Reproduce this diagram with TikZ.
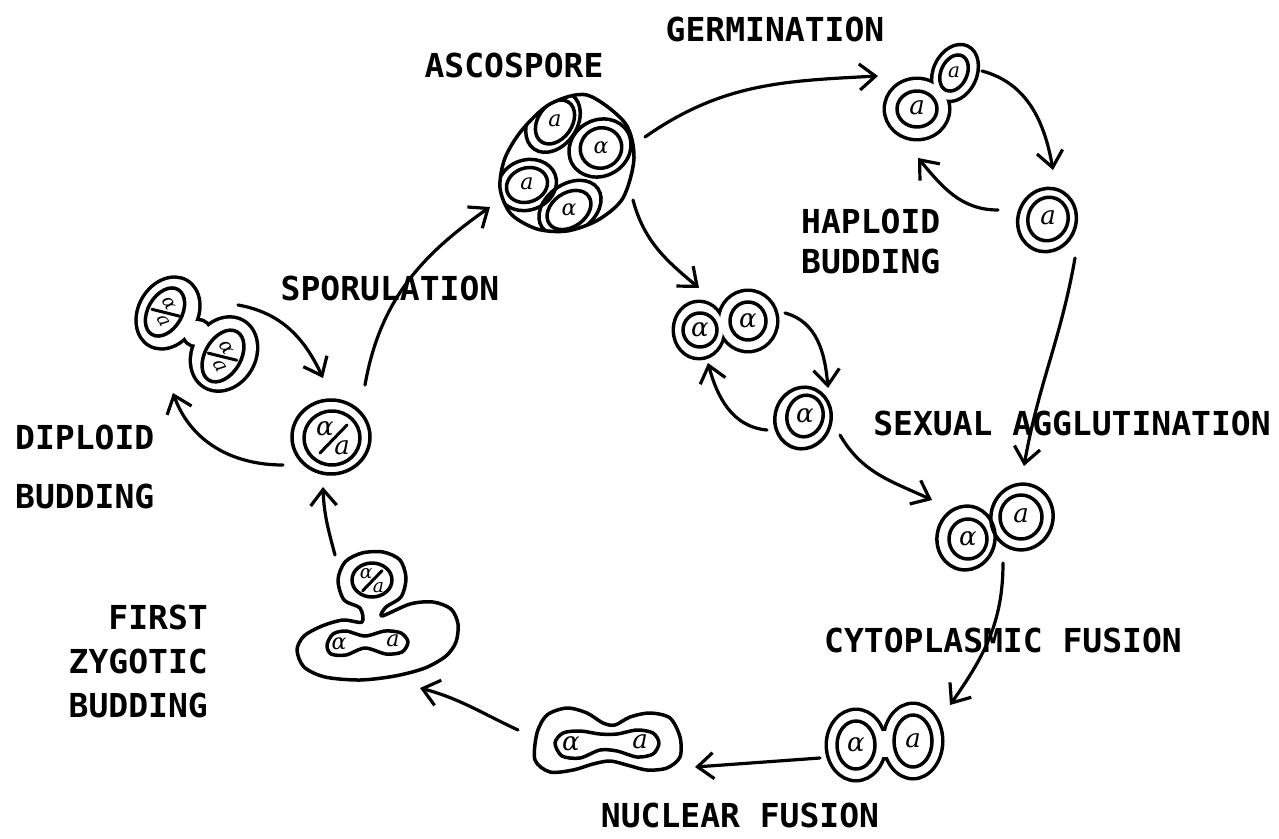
\documentclass[tikz,border=0pt]{standalone}
\usepackage{fontspec}
\newfontfamily\stagefont{DejaVu Sans Mono}
\newfontfamily\chromofont{DejaVu Serif}
\usetikzlibrary{arrows.meta}

\tikzset{
  wall/.style={line width=3.5pt},
  rim/.style={line width=7pt},
  stage/.style={font=\stagefont\bfseries\fontsize{33}{40}\selectfont, inner sep=0pt},
  chromo/.style={font=\chromofont\itshape\fontsize{26}{26}\selectfont, inner sep=0pt},
  arrow/.style={line width=3.2pt, -{Straight Barb[length=16pt,width=26pt]}},
  dipsym/.pic={
    \node[chromo, transform shape] at (-8,-9) {α};
    \node[chromo, transform shape] at (9,10) {a};
    \draw[line width=3pt] (-13,15) -- (14,-13);
  }
}

\begin{document}
\begin{tikzpicture}[x=1pt, y=-1pt, line cap=round, line join=round]
\fill[white] (0,0) rectangle (1279,838);
\useasboundingbox (0,0) rectangle (1279,838);

% stage names
\node[stage] (germ) at (775,29) {GERMINATION};
\node[stage] (asco) at (514,65) {ASCOSPORE};
\node[stage, anchor=west, align=left] (hapl) at (801,241) {HAPLOID\\BUDDING};
\node[stage] (spor) at (390,288) {SPORULATION};
\node[stage, anchor=west, align=left] (dipl) at (15,467) {DIPLOID\\[19pt]BUDDING};
\node[stage] (aggl) at (1072,423) {SEXUAL AGGLUTINATION};
\node[stage] (cyto) at (1003,640) {CYTOPLASMIC FUSION};
\node[stage] (nucl) at (740,815) {NUCLEAR FUSION};
\node[stage, anchor=east, align=right] (zygb) at (208,661) {FIRST\\[4pt]ZYGOTIC\\[4pt]BUDDING};

% ascus with four spores
\begin{scope}
  \clip plot[smooth cycle] coordinates {(587,95) (625,123) (634,158) (623,198) (598,220) (567,231) (537,229) (511,214) (500,188) (505,158) (522,130) (550,104)};
  \draw[wall, rotate around={55:(553,122)}] (553,122) ellipse [x radius=33, y radius=24];
  \draw[wall, rotate around={55:(555,122)}] (555,122) ellipse [x radius=24, y radius=17];
  \draw[wall, rotate around={30:(600,148)}] (600,148) ellipse [x radius=32, y radius=28];
  \draw[wall, rotate around={30:(601,148)}] (601,148) ellipse [x radius=21, y radius=20];
  \draw[wall, rotate around={20:(527,185)}] (527,185) ellipse [x radius=30, y radius=25];
  \draw[wall, rotate around={20:(527,185)}] (527,185) ellipse [x radius=21, y radius=17];
  \draw[wall, rotate around={35:(570,208)}] (570,208) ellipse [x radius=34, y radius=24];
  \draw[wall, rotate around={35:(569,210)}] (569,210) ellipse [x radius=24, y radius=17];
\end{scope}
\draw[wall] plot[smooth cycle] coordinates {(587,95) (625,123) (634,158) (623,198) (598,220) (567,231) (537,229) (511,214) (500,188) (505,158) (522,130) (550,104)};
\node[chromo, font=\chromofont\itshape\fontsize{22}{22}\selectfont] (s1) at (555,121) {a};
\node[chromo, font=\chromofont\itshape\fontsize{22}{22}\selectfont] (s2) at (601,148) {α};
\node[chromo, font=\chromofont\itshape\fontsize{22}{22}\selectfont] (s3) at (527,184) {a};
\node[chromo, font=\chromofont\itshape\fontsize{22}{22}\selectfont] (s4) at (569,210) {α};

% germinating a spore
\draw[rim] (917,109) ellipse [x radius=31, y radius=29];
\draw[rim, rotate around={-25:(955,73)}] (955,73) ellipse [x radius=20, y radius=28];
\fill[white] (917,109) ellipse [x radius=31, y radius=29];
\fill[white, rotate around={-25:(955,73)}] (955,73) ellipse [x radius=20, y radius=28];
\draw[wall] (917,109) ellipse [x radius=20, y radius=18];
\draw[wall, rotate around={-25:(954,73)}] (954,73) ellipse [x radius=13, y radius=19];
\node[chromo] (g1) at (917,108) {a};
\node[chromo, font=\chromofont\itshape\fontsize{20}{20}\selectfont] (g2) at (954,72) {a};

% single a cell
\draw[wall, rotate around={-20:(1047,220)}] (1047,220) ellipse [x radius=29, y radius=32];
\draw[wall, rotate around={-20:(1048,219)}] (1048,219) ellipse [x radius=20, y radius=22];
\node[chromo] (h1) at (1048,218) {a};

% alpha pair
\draw[rim] (699,330) ellipse [x radius=24, y radius=27];
\draw[rim] (748,321) ellipse [x radius=28, y radius=29];
\fill[white] (699,330) ellipse [x radius=24, y radius=27];
\fill[white] (748,321) ellipse [x radius=28, y radius=29];
\draw[wall] (700,330) ellipse [x radius=17, y radius=17];
\draw[wall] (748,321) ellipse [x radius=18, y radius=19];
\node[chromo] (p1) at (700,330) {α};
\node[chromo] (p2) at (748,321) {α};

% single alpha cell
\draw[wall, rotate around={-15:(803,418)}] (803,418) ellipse [x radius=28, y radius=31];
\draw[wall, rotate around={-15:(805,416)}] (805,416) ellipse [x radius=18, y radius=21];
\node[chromo] (q1) at (805,416) {α};

% mating pair
\draw[wall, rotate around={-10:(966,538)}] (966,538) ellipse [x radius=29, y radius=32];
\draw[wall] (968,539) ellipse [x radius=19, y radius=20];
\draw[wall, rotate around={-15:(1022,517)}] (1022,517) ellipse [x radius=31, y radius=33];
\draw[wall] (1021,517) ellipse [x radius=21, y radius=22];
\node[chromo] (m1) at (968,539) {α};
\node[chromo] (m2) at (1021,516) {a};

% joined pair
\draw[rim] (856,745) ellipse [x radius=28, y radius=34];
\draw[rim] (913,741) ellipse [x radius=28, y radius=36];
\draw[rim] (885,744) ellipse [x radius=16, y radius=13];
\fill[white] (856,745) ellipse [x radius=28, y radius=34];
\fill[white] (913,741) ellipse [x radius=28, y radius=36];
\fill[white] (885,744) ellipse [x radius=16, y radius=13];
\draw[wall] (856,745) ellipse [x radius=19, y radius=24];
\draw[wall] (913,741) ellipse [x radius=19, y radius=26];
\node[chromo] (c1) at (856,745) {α};
\node[chromo] (c2) at (913,741) {a};

% zygote with fusing nuclei
\draw[wall] plot[smooth cycle] coordinates {(537,733) (547,715) (567,708) (587,713) (603,723) (615,725) (630,717) (650,713) (670,718) (680,737) (680,757) (667,768) (647,770) (627,765) (610,761) (593,764) (573,770) (550,772) (535,760)};
\draw[wall] plot[smooth cycle] coordinates {(555,743) (563,733) (580,731) (600,734) (617,734) (637,730) (653,733) (659,743) (653,754) (637,757) (617,751) (600,750) (580,758) (562,756)};
\node[chromo] (n1) at (571,744) {α};
\node[chromo] (n2) at (640,742) {a};

% zygote with first bud
\draw[wall] plot[smooth cycle] coordinates {(362,622) (360,608) (344,600) (338,580) (345,562) (362,553) (383,552) (400,560) (406,578) (401,597) (386,607) (382,616) (410,604) (433,602) (451,609) (458,624) (456,642) (446,656) (425,668) (395,676) (360,680) (325,677) (304,667) (297,650) (304,636) (322,626) (343,620)};
\draw[wall] (372,580) ellipse [x radius=20, y radius=17];
\pic[scale=0.72] at (372,580) {dipsym};
\draw[wall] plot[smooth cycle] coordinates {(327,645) (333,634) (346,631) (365,636) (385,631) (401,633) (408,642) (402,652) (386,654) (365,648) (346,655) (331,654)};
\node[chromo, font=\chromofont\itshape\fontsize{22}{22}\selectfont] (z1) at (339,644) {α};
\node[chromo, font=\chromofont\itshape\fontsize{22}{22}\selectfont] (z2) at (393,641) {a};

% diploid cell
\draw[wall] (331,437) ellipse [x radius=39, y radius=37];
\draw[wall] (332,438) ellipse [x radius=28, y radius=27];
\pic at (333,438) {dipsym};

% budding diploid
\draw[rim, rotate around={60:(168,313)}] (168,313) ellipse [x radius=36, y radius=28];
\draw[rim, rotate around={60:(224,354)}] (224,354) ellipse [x radius=37, y radius=30];
\draw[rim] (197,333) ellipse [x radius=13, y radius=12];
\fill[white, rotate around={60:(168,313)}] (168,313) ellipse [x radius=36, y radius=28];
\fill[white, rotate around={60:(224,354)}] (224,354) ellipse [x radius=37, y radius=30];
\fill[white] (197,333) ellipse [x radius=13, y radius=12];
\draw[wall, rotate around={60:(165,312)}] (165,312) ellipse [x radius=26, y radius=17];
\draw[wall, rotate around={60:(223,356)}] (223,356) ellipse [x radius=28, y radius=18];
\pic[rotate=-60, scale=0.72] at (166,312) {dipsym};
\pic[rotate=-60, scale=0.76] at (223,356) {dipsym};

% arrow ends
\coordinate (spoS) at (365,385);  \coordinate (spoE) at (490,207);
\coordinate (gerS) at (645,137);  \coordinate (gerE) at (878,76);
\coordinate (hbaS) at (982,71);   \coordinate (hbaE) at (1053,170);
\coordinate (hbbS) at (998,210);  \coordinate (hbbE) at (918,158);
\coordinate (hagS) at (1075,258); \coordinate (hagE) at (1024,466);
\coordinate (ascS) at (633,200);  \coordinate (ascE) at (699,288);
\coordinate (abaS) at (785,313);  \coordinate (abaE) at (828,388);
\coordinate (abbS) at (767,430);  \coordinate (abbE) at (708,363);
\coordinate (aagS) at (840,435);  \coordinate (aagE) at (932,500);
\coordinate (cytS) at (1003,563); \coordinate (cytE) at (950,705);
\coordinate (nucS) at (820,758);  \coordinate (nucE) at (695,767);
\coordinate (zygS) at (518,730);  \coordinate (zygE) at (420,688);
\coordinate (dipS) at (335,555);  \coordinate (dipE) at (323,487);
\coordinate (dbaS) at (283,465);  \coordinate (dbaE) at (173,393);
\coordinate (dbbS) at (238,305);  \coordinate (dbbE) at (323,378);

\draw[arrow] (spoS) to[out=80, in=215] (spoE);
\draw[arrow] (gerS) to[out=35, in=183] (gerE);
\draw[arrow] (hbaS) to[out=-15, in=100] (hbaE);
\draw[arrow] (hbbS) to[out=180, in=-50] (hbbE);
\draw[arrow] (hagS) to[out=-100, in=80] (hagE);
\draw[arrow] (ascS) to[out=-75, in=140] (ascE);
\draw[arrow] (abaS) to[out=-15, in=95] (abaE);
\draw[arrow] (abbS) to[out=175, in=-75] (abbE);
\draw[arrow] (aagS) to[out=-60, in=155] (aagE);
\draw[arrow] (cytS) to[out=-90, in=55] (cytE);
\draw[arrow] (nucS) -- (nucE);
\draw[arrow] (zygS) to[out=155, in=-15] (zygE);
\draw[arrow] (dipS) to[out=105, in=-88] (dipE);
\draw[arrow] (dbaS) to[out=180, in=-70] (dbaE);
\draw[arrow] (dbbS) to[out=-10, in=115] (dbbE);
\end{tikzpicture}
\end{document}
